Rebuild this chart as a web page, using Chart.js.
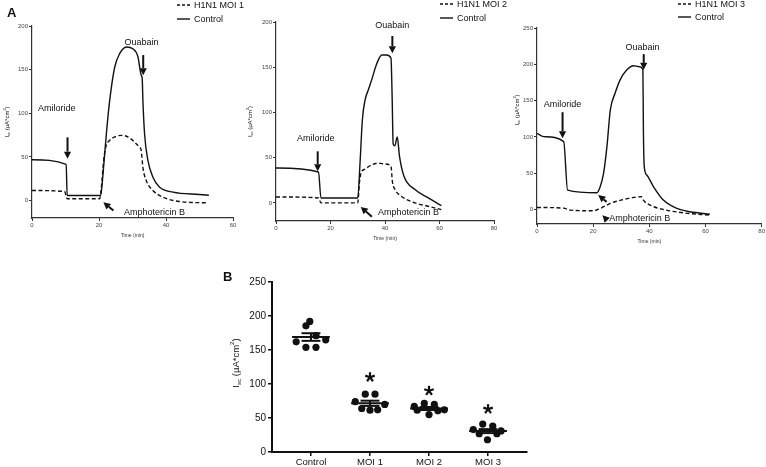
<!DOCTYPE html>
<html>
<head>
<meta charset="utf-8">
<script src="https://cdn.jsdelivr.net/npm/chart.js@4.4.0/dist/chart.umd.min.js"></script>
<style>
  html, body { margin: 0; padding: 0; background: #fff; }
  #wrap { position: relative; width: 766px; height: 467px; overflow: hidden; }
  canvas { position: absolute; }
</style>
</head>
<body>
<div id="wrap">
  <canvas id="trace1" style="left:0;top:0" width="255" height="242"></canvas>
  <canvas id="trace2" style="left:240px;top:0" width="270" height="245"></canvas>
  <canvas id="trace3" style="left:505px;top:0" width="261" height="248"></canvas>
  <canvas id="dots" style="left:218px;top:262px" width="317" height="205"></canvas>
</div>
<script>
// Panel A traces (time in min, Isc in uA*cm2)
const ctrl1Time = [0, 10.2, 10.5, 20.5, 21.2, 22.2, 23.2, 24.7, 26.2, 28.2, 30.1, 31.6, 32.6, 32.9, 33.1, 33.6, 34.6, 36.1, 38.1, 42.1, 50, 52.8];
const ctrl1Isc  = [46.7, 41.4, 5.7, 5.7, 30.6, 76.6, 115, 153, 168.6, 176, 174, 165, 143.7, 140, 115, 76.6, 46, 26.8, 15.3, 9.6, 6.9, 6];
const moi1Time  = [0, 9.75, 10.5, 20.2, 20.7, 21.4, 22, 23.2, 25.2, 26.7, 28.7, 30.6, 32.1, 32.6, 33.1, 34.1, 36.1, 39.1, 44, 52.5];
const moi1Isc   = [11.5, 10.3, 2, 2, 15, 46, 61, 69, 73.6, 74.7, 72.8, 67, 61, 57.5, 38, 23, 11.5, 3.8, -1.1, -2.7];

const ctrl2Time = [0, 15.6, 16.5, 30, 30.9, 31.7, 32.7, 33.9, 35.1, 37, 38.8, 40.6, 42.2, 42.6, 43.0, 43.6, 44.5, 45.3, 46.9, 51, 55.9, 60.7];
const ctrl2Isc  = [38.6, 34.2, 5.5, 5.5, 47.8, 92, 114, 125, 136, 154, 163.6, 163.6, 160, 120, 65, 63, 73, 52, 30, 14.7, 5.5, -3];
const moi2Time  = [0, 15.6, 16.5, 30, 30.6, 31.2, 32.7, 35.1, 37.6, 40, 42.2, 42.7, 43.7, 46, 51, 55.9, 60.7];
const moi2Isc   = [6.6, 5.5, 0, 0, 22, 33, 37.5, 42, 44, 43, 40.4, 24, 14.7, 7.4, 0, -3.7, -7.4];

const ctrl3Time = [0, 2.4, 9.5, 10.9, 21.3, 22.5, 23.7, 24.9, 26.1, 27.8, 29.6, 32, 34.4, 36.1, 37.7, 37.9, 38.2, 39.1, 41.5, 45, 49.8, 54.5, 61.6];
const ctrl3Isc  = [105, 100.4, 93.5, 26.7, 23, 31.3, 49.7, 86.6, 137, 160, 178.6, 192.4, 198, 197, 193.4, 105, 59, 47.4, 31.3, 12.9, 1.4, -3.2, -6.4];
const moi3Time  = [0, 9.5, 11.8, 20.1, 22.5, 26.1, 30.8, 34.4, 37.3, 37.9, 40.3, 45, 52.1, 61.6];
const moi3Isc   = [2.8, 1.8, -0.9, -1.8, 1.4, 8.3, 13.8, 16.6, 17.5, 12.9, 6, 0, -4.6, -7.8];

const timeTicks60 = [0, 20, 40, 60];
const timeTicks80 = [0, 20, 40, 60, 80];
const iscTicks200 = [0, 50, 100, 150, 200];
const iscTicks250 = [0, 50, 100, 150, 200, 250];

// Panel B: peak Isc per insert
const groupLabels = ['Control', 'MOI 1', 'MOI 2', 'MOI 3'];
const controlIsc = [192, 185.5, 171, 162, 165, 154, 154];
const moi1Peak   = [74, 85, 85, 64, 61.5, 62, 70];
const moi2Peak   = [67, 71.5, 70, 61.5, 55, 60.5, 62];
const moi3Peak   = [33, 41, 38, 27, 18, 27, 31];
const controlJitter = [-0.02, -0.085, 0.085, -0.25, 0.25, -0.085, 0.085];
const moi1Jitter    = [-0.25, -0.08, 0.085, -0.14, 0, 0.13, 0.25];
const moi2Jitter    = [-0.25, -0.08, 0.09, -0.2, 0, 0.15, 0.26];
const moi3Jitter    = [-0.25, -0.09, 0.08, -0.15, -0.01, 0.15, 0.22];
const starLevels = [null, 110, 90, 63];

const FONT = '"Liberation Sans", Arial, sans-serif';
const INK = '#111';

Chart.defaults.font.family = FONT;
Chart.defaults.color = INK;
Chart.defaults.animation = false;

function drawArrow(ctx, x1, y1, x2, y2) {
    const ang = Math.atan2(y2 - y1, x2 - x1);
    const head = 7, half = 3.6;
    const bx = x2 - head * Math.cos(ang), by = y2 - head * Math.sin(ang);
    ctx.lineWidth = 2;
    ctx.beginPath();
    ctx.moveTo(x1, y1);
    ctx.lineTo(bx, by);
    ctx.stroke();
    ctx.beginPath();
    ctx.moveTo(x2, y2);
    ctx.lineTo(bx + half * Math.sin(ang), by - half * Math.cos(ang));
    ctx.lineTo(bx - half * Math.sin(ang), by + half * Math.cos(ang));
    ctx.closePath();
    ctx.fill();
}

// rotated "Isc (uA*cm2)" with sub/superscript
function drawIscTitle(ctx, cx, cy, size) {
    const parts = [
        { t: 'I', s: size, dy: 0 },
        { t: 'sc', s: size * 0.65, dy: size * 0.3 },
        { t: ' (\u00b5A*cm', s: size, dy: 0 },
        { t: '2', s: size * 0.65, dy: -size * 0.35 },
        { t: ')', s: size, dy: 0 }
    ];
    ctx.save();
    ctx.translate(cx, cy);
    ctx.rotate(-Math.PI / 2);
    ctx.textBaseline = 'middle';
    ctx.textAlign = 'left';
    let total = 0;
    parts.forEach(p => { ctx.font = `${p.s}px ${FONT}`; p.w = ctx.measureText(p.t).width; total += p.w; });
    let x = -total / 2;
    parts.forEach(p => {
        ctx.font = `${p.s}px ${FONT}`;
        ctx.fillText(p.t, x, p.dy);
        x += p.w;
    });
    ctx.restore();
}

function fixedTicks(values) {
    return scale => { scale.ticks = values.map(v => ({ value: v })); };
}

function traceDecor(cfg) {
    return {
        id: 'traceDecor',
        afterDatasetsDraw(chart) {
            const { ctx, scales: { x, y }, chartArea } = chart;
            ctx.save();
            ctx.fillStyle = INK;
            ctx.strokeStyle = INK;
            ctx.font = `9px ${FONT}`;
            ctx.textBaseline = 'middle';
            cfg.notes.forEach(n => {
                ctx.textAlign = n.align || 'center';
                ctx.fillText(n.text, x.getPixelForValue(n.t), y.getPixelForValue(n.v));
            });
            cfg.arrows.forEach(a => drawArrow(ctx,
                x.getPixelForValue(a[0]), y.getPixelForValue(a[1]),
                x.getPixelForValue(a[2]), y.getPixelForValue(a[3])));

            // legend
            const lg = cfg.legend;
            ctx.lineWidth = 1.4;
            ctx.textAlign = 'left';
            ctx.font = `9px ${FONT}`;
            [[lg.y1, [3, 2], lg.labels[0]], [lg.y2, [], lg.labels[1]]].forEach(([ly, dash, label]) => {
                ctx.setLineDash(dash);
                ctx.beginPath();
                ctx.moveTo(lg.x, ly);
                ctx.lineTo(lg.x + 13, ly);
                ctx.stroke();
                ctx.setLineDash([]);
                ctx.fillText(label, lg.x + 17, ly + 0.5);
            });

            drawIscTitle(ctx, cfg.titleX, cfg.titleY || (chartArea.top + chartArea.bottom) / 2, 6);

            if (cfg.panel) {
                ctx.font = `bold 13px ${FONT}`;
                ctx.textAlign = 'left';
                ctx.textBaseline = 'alphabetic';
                ctx.fillText(cfg.panel, 7, 17);
            }
            ctx.restore();
        }
    };
}

function lineSet(times, values, dashed) {
    return {
        data: times.map((t, i) => ({ x: t, y: values[i] })),
        borderColor: INK,
        borderWidth: 1.4,
        borderDash: dashed ? [4, 2.5] : [],
        pointRadius: 0,
        cubicInterpolationMode: 'monotone',
        fill: false
    };
}

function renderTrace(id, cfg) {
    const axisGrid = { display: true, drawOnChartArea: false, drawTicks: true, tickLength: 3, color: '#333', lineWidth: 1 };
    new Chart(document.getElementById(id), {
        type: 'line',
        data: {
            datasets: [
                lineSet(cfg.ctrl[0], cfg.ctrl[1], false),
                lineSet(cfg.moi[0], cfg.moi[1], true)
            ]
        },
        options: {
            responsive: false,
            layout: { padding: cfg.padding },
            plugins: { legend: { display: false }, tooltip: { enabled: false } },
            scales: {
                x: {
                    type: 'linear',
                    min: 0,
                    max: cfg.xMax,
                    afterBuildTicks: fixedTicks(cfg.xTicks),
                    afterFit: s => { s.height = cfg.xAxisH; },
                    ticks: { font: { size: 6 }, color: '#444', padding: 1, maxRotation: 0, autoSkip: false },
                    grid: axisGrid,
                    border: { color: '#333', width: 1.2 },
                    title: { display: true, text: 'Time (min)', font: { size: 5 }, color: '#333', padding: { top: 1, bottom: 3 } }
                },
                y: {
                    min: cfg.yMin,
                    max: cfg.yMax,
                    afterBuildTicks: fixedTicks(cfg.yTicks),
                    afterFit: s => { s.width = cfg.yAxisW; },
                    ticks: { font: { size: 6 }, color: '#444', padding: 1 },
                    grid: axisGrid,
                    border: { color: '#333', width: 1.2 }
                }
            }
        },
        plugins: [traceDecor(cfg)]
    });
}

function renderDots() {
    const groups = [controlIsc, moi1Peak, moi2Peak, moi3Peak];
    const jitters = [controlJitter, moi1Jitter, moi2Jitter, moi3Jitter];

    const stats = groups.map(vals => {
        const n = vals.length;
        const mean = vals.reduce((a, b) => a + b, 0) / n;
        const sd = Math.sqrt(vals.reduce((a, b) => a + (b - mean) ** 2, 0) / (n - 1));
        return { mean, sem: sd / Math.sqrt(n) };
    });

    const decor = {
        id: 'dotDecor',
        afterDatasetsDraw(chart) {
            const { ctx, scales: { x, y }, chartArea } = chart;
            ctx.save();
            ctx.strokeStyle = INK;
            ctx.fillStyle = INK;
            ctx.lineWidth = 2;
            stats.forEach((st, i) => {
                const c = i + 1;
                const line = (x1, x2, v) => {
                    ctx.beginPath();
                    ctx.moveTo(x.getPixelForValue(x1), y.getPixelForValue(v));
                    ctx.lineTo(x.getPixelForValue(x2), y.getPixelForValue(v));
                    ctx.stroke();
                };
                line(c - 0.32, c + 0.32, st.mean);
                line(c - 0.16, c + 0.16, st.mean + st.sem);
                line(c - 0.16, c + 0.16, st.mean - st.sem);
                ctx.beginPath();
                ctx.moveTo(x.getPixelForValue(c), y.getPixelForValue(st.mean + st.sem));
                ctx.lineTo(x.getPixelForValue(c), y.getPixelForValue(st.mean - st.sem));
                ctx.stroke();

                if (starLevels[i] !== null) {
                    const sx = x.getPixelForValue(c), sy = y.getPixelForValue(starLevels[i]);
                    ctx.lineWidth = 2.2;
                    for (let k = 0; k < 5; k++) {
                        const a = -Math.PI / 2 + k * 2 * Math.PI / 5;
                        ctx.beginPath();
                        ctx.moveTo(sx, sy);
                        ctx.lineTo(sx + 5 * Math.cos(a), sy + 5 * Math.sin(a));
                        ctx.stroke();
                    }
                    ctx.lineWidth = 2;
                }
            });

            drawIscTitle(ctx, 18, (chartArea.top + chartArea.bottom) / 2 - 4, 9.5);
            ctx.font = `bold 13px ${FONT}`;
            ctx.textAlign = 'left';
            ctx.fillText('B', 5, 19);
            ctx.restore();
        }
    };

    const axisGrid = { display: true, drawOnChartArea: false, drawTicks: true, tickLength: 4, color: INK, lineWidth: 1.5 };

    new Chart(document.getElementById('dots'), {
        type: 'scatter',
        data: {
            datasets: groups.map((vals, i) => ({
                label: groupLabels[i],
                data: vals.map((v, k) => ({ x: i + 1 + jitters[i][k], y: v })),
                backgroundColor: INK,
                borderWidth: 0,
                pointRadius: 3.6
            }))
        },
        options: {
            responsive: false,
            layout: { padding: { left: 0, right: 8, top: 20, bottom: 0 } },
            plugins: { legend: { display: false }, tooltip: { enabled: false } },
            scales: {
                x: {
                    type: 'linear',
                    min: 0.34,
                    max: 4.66,
                    afterBuildTicks: fixedTicks([1, 2, 3, 4]),
                    afterFit: s => { s.height = 15; },
                    ticks: {
                        font: { size: 9.5 },
                        color: INK,
                        padding: 1,
                        maxRotation: 0,
                        autoSkip: false,
                        callback: v => groupLabels[v - 1]
                    },
                    grid: axisGrid,
                    border: { color: INK, width: 2 }
                },
                y: {
                    min: 0,
                    max: 250,
                    afterBuildTicks: fixedTicks(iscTicks250),
                    afterFit: s => { s.width = 54; },
                    ticks: { font: { size: 10 }, color: INK, padding: 2 },
                    grid: axisGrid,
                    border: { color: INK, width: 2 }
                }
            }
        },
        plugins: [decor]
    });
}

document.addEventListener('DOMContentLoaded', () => {
    renderTrace('trace1', {
        ctrl: [ctrl1Time, ctrl1Isc],
        moi: [moi1Time, moi1Isc],
        xMax: 60, xTicks: timeTicks60,
        yMin: -20, yMax: 200, yTicks: iscTicks200,
        padding: { left: 0, right: 22, top: 26, bottom: 0 },
        xAxisH: 24, yAxisW: 32,
        titleX: 7,
        panel: 'A',
        legend: { x: 177, y1: 5, y2: 19, labels: ['H1N1 MOI 1', 'Control'] },
        notes: [
            { text: 'Amiloride', t: 1.8, v: 105.7, align: 'left' },
            { text: 'Ouabain', t: 32.7, v: 181 },
            { text: 'Amphotericin B', t: 36.6, v: -13.4 }
        ],
        arrows: [
            [10.6, 72.4, 10.6, 48],
            [33.2, 166.7, 33.2, 143.7],
            [24.3, -11.5, 21.3, -2]
        ]
    });

    renderTrace('trace2', {
        ctrl: [ctrl2Time, ctrl2Isc],
        moi: [moi2Time, moi2Isc],
        xMax: 80, xTicks: timeTicks80,
        yMin: -20, yMax: 200, yTicks: iscTicks200,
        padding: { left: 0, right: 16, top: 22, bottom: 0 },
        xAxisH: 24, yAxisW: 36,
        titleX: 10,
        legend: { x: 200, y1: 4, y2: 18, labels: ['H1N1 MOI 2', 'Control'] },
        notes: [
            { text: 'Amiloride', t: 14.6, v: 71.6 },
            { text: 'Ouabain', t: 42.7, v: 195.6 },
            { text: 'Amphotericin B', t: 48.6, v: -11 }
        ],
        arrows: [
            [15.3, 57, 15.3, 35],
            [42.7, 184.5, 42.7, 165.4],
            [35.2, -15.4, 31.1, -4.4]
        ]
    });

    renderTrace('trace3', {
        ctrl: [ctrl3Time, ctrl3Isc],
        moi: [moi3Time, moi3Isc],
        xMax: 80, xTicks: timeTicks80,
        yMin: -20, yMax: 250, yTicks: iscTicks250,
        padding: { left: 0, right: 4, top: 28, bottom: 0 },
        xAxisH: 24, yAxisW: 32,
        titleX: 12, titleY: 110,
        legend: { x: 173, y1: 4, y2: 17, labels: ['H1N1 MOI 3', 'Control'] },
        notes: [
            { text: 'Amiloride', t: 9.1, v: 145 },
            { text: 'Ouabain', t: 37.6, v: 223.7 },
            { text: 'Amphotericin B', t: 25.7, v: -12.4, align: 'left' }
        ],
        arrows: [
            [38, 214, 38, 192.4],
            [9.1, 134, 9.1, 98],
            [24.8, 10.5, 21.8, 19.8],
            [25, -14.8, 23.3, -7.9]
        ]
    });

    renderDots();
});
</script>
</body>
</html>
